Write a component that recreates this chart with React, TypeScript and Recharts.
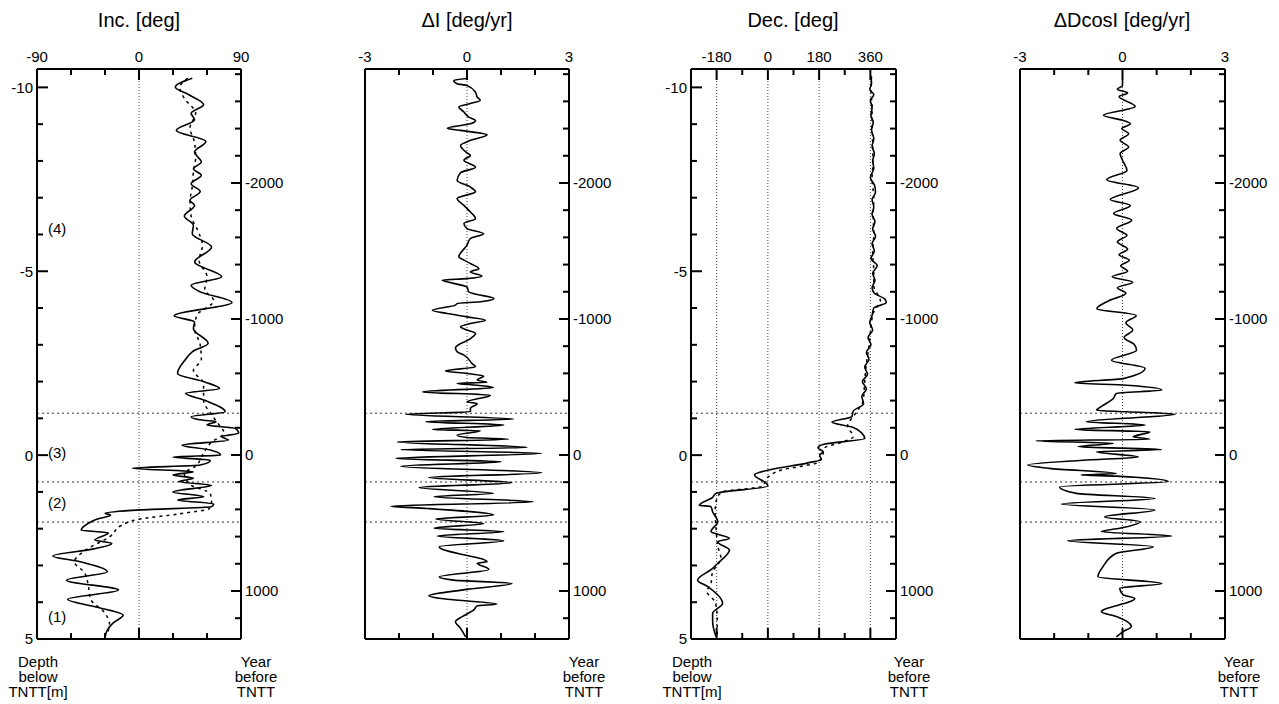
import React from "react";
import { LineChart, Line, XAxis, YAxis, ReferenceLine } from "recharts";

const FONT = '"Liberation Sans", Arial, Helvetica, sans-serif';

type Pair = [number, number]; // [depth below TNTT (m), value]

// shared vertical axes
const depthDomain: [number, number] = [-10.5, 5];
const yearDomain: [number, number] = [-2838, 1353];
const depthTicks = [-10, -9, -8, -7, -6, -5, -4, -3, -2, -1, 0, 1, 2, 3, 4, 5];
const depthLabels = [-10, -5, 0, 5];
const yearTicks = [-2800, -2600, -2400, -2200, -2000, -1800, -1600, -1400, -1200, -1000, -800, -600, -400, -200, 0, 200, 400, 600, 800, 1000, 1200];
const yearLabels = [-2000, -1000, 0, 1000];
const unitBoundaries = [-1.14, 0.73, 1.82];

// inclination
const incTicks = [-90, -60, -30, 0, 30, 60, 90];
const incObserved: Pair[] = [
  [-10.25, 47], [-10.01, 32], [-9.8, 44], [-9.53, 57], [-9.3, 46], [-9.12, 49], [-8.83, 33], [-8.53, 59],
  [-8.24, 49], [-7.97, 55], [-7.79, 48], [-7.61, 55], [-7.38, 46], [-7.17, 54], [-6.93, 45], [-6.79, 49],
  [-6.5, 40], [-6.25, 48], [-6.02, 47], [-5.66, 64], [-5.25, 49], [-4.85, 73], [-4.62, 46], [-4.44, 54],
  [-4.15, 82], [-3.79, 31], [-3.62, 49], [-3.44, 48], [-3.04, 61], [-2.81, 47], [-2.6, 41], [-2.22, 34],
  [-1.99, 58], [-1.81, 71], [-1.68, 41], [-1.49, 58], [-1.18, 76], [-1.04, 46], [-0.95, 57], [-0.91, 68],
  [-0.82, 60], [-0.73, 85], [-0.6, 88], [-0.5, 73], [-0.41, 79], [-0.27, 38], [-0.14, 63], [0, 72],
  [0.05, 30], [0.14, 63], [0.27, 54], [0.36, -6], [0.45, 48], [0.54, 30], [0.63, 48], [0.72, 35],
  [0.82, 64], [1.0, 30], [1.13, 57], [1.22, 34], [1.33, 66], [1.4, 64], [1.49, 1], [1.58, -30],
  [1.63, -25], [1.75, -38], [1.86, -45], [2.04, -51], [2.11, -27], [2.31, -39], [2.4, -24], [2.55, -40],
  [2.74, -76], [2.9, -52], [3.17, -28], [3.4, -64], [3.67, -18], [3.92, -63], [4.15, -35], [4.35, -14],
  [4.57, -23], [4.76, -28], [4.94, -30],
];
const incModel: Pair[] = [
  [-10.25, 43], [-10.0, 36], [-9.7, 40], [-9.3, 50], [-8.9, 45], [-8.5, 49], [-8.1, 50], [-7.7, 48],
  [-7.3, 47], [-6.9, 45], [-6.5, 46], [-6.1, 52], [-5.7, 56], [-5.3, 53], [-4.85, 60], [-4.5, 58],
  [-4.2, 66], [-3.8, 51], [-3.45, 49], [-3.0, 54], [-2.6, 55], [-2.3, 48], [-1.95, 57], [-1.5, 57],
  [-1.1, 64], [-0.85, 70], [-0.6, 75], [-0.35, 64], [0, 56], [0.3, 50], [0.5, 40], [0.8, 45],
  [1.05, 63], [1.3, 64], [1.45, 62], [1.6, 35], [1.75, -1], [1.9, -15], [2.2, -25], [2.6, -48],
  [2.9, -57], [3.2, -48], [3.5, -45], [3.9, -43], [4.3, -30], [4.6, -26], [4.9, -29],
];

// rate of inclination change
const rateTicks = [-3, -2, -1, 0, 1, 2, 3];
const incRate: Pair[] = [
  [-10.24, 0], [-10.19, -0.39], [-10.1, -0.29], [-10.05, 0], [-9.87, 0.25], [-9.74, 0.3], [-9.65, 0.39],
  [-9.56, 0.1], [-9.47, -0.24], [-9.33, -0.09], [-9.19, 0.05], [-9.1, 0.25], [-9.01, 0.1], [-8.89, -0.58],
  [-8.83, -0.19], [-8.71, 0.59], [-8.56, 0.1], [-8.42, -0.19], [-8.22, 0], [-8.15, 0.1], [-8.02, -0.09],
  [-7.83, 0.25], [-7.68, -0.19], [-7.47, -0.29], [-7.29, 0.1], [-7.16, 0.25], [-6.98, -0.29], [-6.79, -0.09],
  [-6.61, 0.1], [-6.43, 0.25], [-6.3, -0.09], [-6.16, 0], [-6.02, 0.49], [-5.89, 0.1], [-5.71, 0],
  [-5.39, -0.24], [-5.33, -0.14], [-5.21, 0.1], [-5.07, 0.35], [-4.98, 0.1], [-4.87, 0.44], [-4.8, 0],
  [-4.76, -0.73], [-4.67, -0.39], [-4.57, 0], [-4.44, 0.05], [-4.39, 0.2], [-4.26, 0.79], [-4.17, 0.39],
  [-4.12, -0.29], [-4.08, -0.34], [-3.94, -1.02], [-3.85, -0.58], [-3.76, 0], [-3.67, 0.54], [-3.58, 0.1],
  [-3.49, -0.19], [-3.4, 0], [-3.31, 0.25], [-3.17, 0.1], [-2.92, -0.34], [-2.81, -0.29], [-2.72, -0.09],
  [-2.49, 0.15], [-2.4, 0.25], [-2.29, -0.63], [-2.22, 0], [-2.15, 0.49], [-2.04, 0.3], [-1.98, 0.59],
  [-1.95, -0.29], [-1.9, 0.3], [-1.84, 0.78], [-1.72, -1.31], [-1.63, 0.69], [-1.45, 0], [-1.4, 0.3],
  [-1.27, 0.1], [-1.18, 0.1], [-1.11, -1.8], [-0.98, 1.37], [-0.91, -1.21], [-0.82, 1.08], [-0.7, -1.02],
  [-0.66, 0.39], [-0.54, -0.29], [-0.48, 0], [-0.43, 1.22], [-0.36, -2.04], [-0.21, 1.76], [-0.15, -1.95],
  [-0.05, 2.2], [0.09, -2.09], [0.18, 1.0], [0.3, -1.95], [0.48, 2.2], [0.61, -1.12], [0.75, 1.32],
  [0.88, -1.41], [1.04, 0.78], [1.13, -0.97], [1.27, 1.95], [1.39, -2.24], [1.45, -1.17], [1.63, 0.78],
  [1.74, -0.92], [1.86, 0.49], [1.99, -0.97], [2.08, 1.08], [2.2, -0.87], [2.33, 1.08], [2.49, -0.82],
  [2.56, -0.73], [2.67, -0.29], [2.81, 0.39], [2.9, 0.59], [2.94, 0.3], [3.11, 0.64], [3.31, -0.82],
  [3.4, -0.39], [3.49, 1.32], [3.65, 0], [3.83, -1.12], [3.92, -0.58], [4.05, 0.88], [4.1, 0.3],
  [4.21, 0.2], [4.39, -0.14], [4.53, -0.34], [4.71, -0.19], [4.94, -0.04],
];

// declination
const decTicks = [-180, -90, 0, 90, 180, 270, 360];
const decMajor = [-180, 0, 180, 360];
const decObserved: Pair[] = [
  [-10.3, 362], [-10.1, 364], [-9.95, 358], [-9.8, 372], [-9.65, 360], [-9.45, 366], [-9.25, 362],
  [-9.05, 370], [-8.85, 364], [-8.6, 372], [-8.4, 366], [-8.2, 374], [-8.0, 368], [-7.8, 372],
  [-7.55, 360], [-7.35, 374], [-7.15, 378], [-6.95, 366], [-6.75, 372], [-6.55, 366], [-6.35, 376],
  [-6.15, 368], [-5.95, 378], [-5.75, 366], [-5.55, 374], [-5.35, 362], [-5.15, 384], [-4.95, 368],
  [-4.75, 376], [-4.55, 366], [-4.4, 374], [-4.25, 410], [-4.15, 416], [-4.0, 372], [-3.8, 366],
  [-3.6, 358], [-3.4, 368], [-3.2, 352], [-3.0, 362], [-2.8, 346], [-2.6, 355], [-2.4, 340],
  [-2.2, 350], [-2.0, 332], [-1.8, 346], [-1.6, 330], [-1.4, 336], [-1.2, 300], [-1.05, 295],
  [-0.9, 225], [-0.75, 300], [-0.6, 330], [-0.45, 340], [-0.3, 200], [-0.2, 176], [-0.09, 194],
  [0, 182], [0.12, 188], [0.21, 141], [0.41, 0], [0.54, -47], [0.77, -5], [0.84, 0], [1.04, -182],
  [1.15, -194], [1.36, -241], [1.4, -200], [1.54, -194], [1.81, -176], [2.08, -200], [2.26, -135],
  [2.36, -176], [2.58, -135], [2.94, -176], [3.08, -194], [3.4, -247], [3.58, -210], [4.03, -159],
  [4.3, -194], [4.53, -194], [4.94, -182],
];
const decModel: Pair[] = [
  [-10.3, 364], [-9.9, 362], [-9.5, 366], [-9.0, 366], [-8.5, 368], [-8.0, 369], [-7.5, 366],
  [-7.0, 372], [-6.5, 370], [-6.0, 372], [-5.5, 368], [-5.0, 372], [-4.6, 372], [-4.2, 395],
  [-3.9, 372], [-3.5, 362], [-3.0, 356], [-2.5, 346], [-2.0, 340], [-1.5, 335], [-1.1, 305],
  [-0.8, 280], [-0.5, 300], [-0.35, 260], [-0.2, 200], [0.05, 190], [0.2, 175], [0.41, 45],
  [0.6, 0], [0.85, -20], [1.0, -160], [1.2, -180], [1.5, -185], [2.0, -182], [2.5, -175],
  [2.8, -165], [3.2, -195], [3.5, -200], [3.7, -215], [4.0, -185], [4.4, -178], [4.94, -178],
];

// rate of declination change, scaled by cos I
const decRate: Pair[] = [
  [-10.2, 0], [-10.05, 0], [-9.95, -0.15], [-9.85, 0.15], [-9.75, -0.1], [-9.48, 0.37], [-9.24, -0.56],
  [-9.1, 0.03], [-9.01, 0.23], [-8.88, -0.02], [-8.74, 0.18], [-8.56, -0.07], [-8.38, 0.18], [-8.2, -0.07],
  [-8.02, 0], [-7.74, 0.13], [-7.49, -0.46], [-7.27, 0.47], [-6.95, -0.36], [-6.79, 0.23], [-6.57, -0.26],
  [-6.39, 0.27], [-6.16, -0.17], [-5.98, 0.13], [-5.8, -0.15], [-5.6, 0.15], [-5.45, -0.1], [-5.3, 0.2],
  [-5.15, -0.05], [-5.0, 0.15], [-4.85, -0.3], [-4.7, 0.3], [-4.55, -0.15], [-4.4, 0.1], [-4.2, -0.4],
  [-3.98, -0.75], [-3.8, 0.4], [-3.6, 0.1], [-3.4, 0.3], [-3.2, 0.05], [-3.0, 0.35], [-2.85, 0.41],
  [-2.58, -0.32], [-2.36, 0.66], [-2.08, 0.02], [-1.97, -1.4], [-1.9, 0.12], [-1.77, 1.15], [-1.68, -0.18],
  [-1.54, -0.27], [-1.29, -0.67], [-1.22, -0.76], [-1.18, 0.12], [-1.11, 1.54], [-0.91, -1.06],
  [-0.82, 0.66], [-0.7, -1.4], [-0.63, 0.8], [-0.5, 0.31], [-0.43, 0.8], [-0.39, -2.53], [-0.32, -0.27],
  [-0.23, -1.3], [-0.15, 1.15], [-0.09, -0.76], [0.05, 0.46], [0.14, -1.16], [0.27, -2.77], [0.36, -2.14],
  [0.5, -0.18], [0.54, -1.21], [0.57, -0.18], [0.72, 1.34], [0.86, -1.84], [1.04, -1.35], [1.18, 0.95],
  [1.33, -1.79], [1.49, 0.95], [1.68, -0.52], [1.81, 0.51], [1.99, -0.08], [2.08, -0.62], [2.2, 1.44],
  [2.33, -1.6], [2.49, 0.9], [2.67, -0.18], [3.03, -0.57], [3.31, -0.72], [3.49, 1.15], [3.62, -0.08],
  [3.8, 0.02], [3.9, 0.36], [4.26, -0.62], [4.39, -0.18], [4.66, 0.26], [4.8, 0.02], [4.94, -0.18],
];

const toRows = (pairs: Pair[]) => pairs.map(([depth, value]) => ({ depth, value }));
// rows that span the age axis so it gets a domain of its own
const yearRows = yearDomain.map((year) => ({ year }));

const txt = { fontFamily: FONT, fontSize: 15, fill: "#000" };

function topTick(majors: number[], labels: number[]) {
  return (p: any) => {
    const v = p.payload.value;
    const len = majors.includes(v) ? 11 : 6;
    return (
      <g>
        <line x1={p.x} y1={p.y} x2={p.x} y2={p.y + len} stroke="#000" strokeWidth={2} />
        {labels.includes(v) && (
          <text x={p.x} y={p.y - 7} textAnchor="middle" {...txt}>{v}</text>
        )}
      </g>
    );
  };
}

function bottomTick(majors: number[]) {
  return (p: any) => {
    const len = majors.includes(p.payload.value) ? 11 : 6;
    return <line x1={p.x} y1={p.y} x2={p.x} y2={p.y - len} stroke="#000" strokeWidth={2} />;
  };
}

const depthTick = (p: any) => {
  const v = p.payload.value;
  const major = depthLabels.includes(v);
  return (
    <g>
      <line x1={p.x} y1={p.y} x2={p.x + (major ? 11 : 6)} y2={p.y} stroke="#000" strokeWidth={2} />
      {major && (
        <text x={p.x - 4} y={p.y} dy="0.36em" textAnchor="end" {...txt}>{v}</text>
      )}
    </g>
  );
};

const yearTick = (p: any) => {
  const v = p.payload.value;
  const major = yearLabels.includes(v);
  return (
    <g>
      <line x1={p.x} y1={p.y} x2={p.x - (major ? 10 : 6)} y2={p.y} stroke="#000" strokeWidth={2} />
      {major && (
        <text x={p.x + 4} y={p.y} dy="0.36em" textAnchor="start" {...txt}>{v}</text>
      )}
    </g>
  );
};

interface PanelProps {
  left: number;
  width: number;
  marginLeft: number;
  marginRight: number;
  domain: [number, number];
  ticks: number[];
  majors: number[];
  labels: number[];
  guides: number[];
  depthAxis: boolean;
  solid: Pair[];
  dashed?: Pair[];
}

function Panel(props: PanelProps) {
  const { left, width, marginLeft, marginRight, domain, ticks, majors, labels, guides, depthAxis, solid, dashed } = props;
  const axisLine = { stroke: "#000", strokeWidth: 2 };
  return (
    <div style={{ position: "absolute", left, top: 0 }}>
      <LineChart
        layout="vertical"
        width={width}
        height={704}
        data={yearRows}
        margin={{ top: 39, bottom: 45, left: marginLeft, right: marginRight }}
      >
        <XAxis
          xAxisId="top"
          orientation="top"
          type="number"
          domain={domain}
          allowDataOverflow
          ticks={ticks}
          interval={0}
          height={30}
          tickSize={0}
          tickMargin={0}
          axisLine={axisLine}
          tickLine={false}
          tick={topTick(majors, labels)}
        />
        <XAxis
          xAxisId="bottom"
          orientation="bottom"
          type="number"
          domain={domain}
          allowDataOverflow
          ticks={ticks}
          interval={0}
          height={20}
          tickSize={0}
          tickMargin={0}
          axisLine={axisLine}
          tickLine={false}
          tick={bottomTick(majors)}
        />
        <YAxis
          yAxisId="depth"
          orientation="left"
          type="number"
          dataKey="depth"
          domain={depthDomain}
          allowDataOverflow
          ticks={depthTicks}
          interval={0}
          width={30}
          tickSize={0}
          tickMargin={0}
          axisLine={axisLine}
          tickLine={false}
          tick={depthAxis ? depthTick : false}
        />
        <YAxis
          yAxisId="year"
          orientation="right"
          type="number"
          dataKey="year"
          domain={yearDomain}
          allowDataOverflow
          ticks={yearTicks}
          interval={0}
          width={40}
          tickSize={0}
          tickMargin={0}
          axisLine={axisLine}
          tickLine={false}
          tick={yearTick}
        />
        {guides.map((g) => (
          <ReferenceLine key={`g${g}`} x={g} xAxisId="top" yAxisId="depth" stroke="#444" strokeWidth={1} strokeDasharray="1 2" />
        ))}
        {unitBoundaries.map((d) => (
          <ReferenceLine key={`b${d}`} y={d} xAxisId="top" yAxisId="depth" stroke="#333" strokeWidth={1} strokeDasharray="2 3" />
        ))}
        {dashed && (
          <Line
            data={toRows(dashed)}
            dataKey="value"
            xAxisId="top"
            yAxisId="depth"
            type="monotone"
            stroke="#000"
            strokeWidth={1.5}
            strokeDasharray="3 4"
            dot={false}
            isAnimationActive={false}
          />
        )}
        <Line
          data={toRows(solid)}
          dataKey="value"
          xAxisId="top"
          yAxisId="depth"
          type="monotone"
          stroke="#000"
          strokeWidth={1.6}
          dot={false}
          isAnimationActive={false}
        />
      </LineChart>
    </div>
  );
}

function Caption({ x, lines }: { x: number; lines: string[] }) {
  return (
    <>
      {lines.map((s, i) => (
        <text key={s} x={x} y={667 + i * 15} textAnchor="middle" {...txt}>{s}</text>
      ))}
    </>
  );
}

export default function App() {
  const depthCaption = ["Depth", "below", "TNTT[m]"];
  const yearCaption = ["Year", "before", "TNTT"];
  return (
    <div
      style={{
        position: "absolute",
        left: 0,
        top: 0,
        width: 1279,
        height: 704,
        overflow: "hidden",
        background: "#fff",
        fontFamily: FONT,
      }}
    >
      <Panel left={0} width={320} marginLeft={7} marginRight={39} domain={[-90, 90]} ticks={incTicks}
        majors={[0]} labels={[-90, 0, 90]} guides={[0]} depthAxis solid={incObserved} dashed={incModel} />
      <Panel left={320} width={320} marginLeft={15} marginRight={31} domain={[-3, 3]} ticks={rateTicks}
        majors={[0]} labels={[-3, 0, 3]} guides={[0]} depthAxis={false} solid={incRate} />
      <Panel left={640} width={320} marginLeft={21} marginRight={24} domain={[-270, 450]} ticks={decTicks}
        majors={decMajor} labels={decMajor} guides={decMajor} depthAxis solid={decObserved} dashed={decModel} />
      <Panel left={960} width={319} marginLeft={30} marginRight={14} domain={[-3, 3]} ticks={rateTicks}
        majors={[0]} labels={[-3, 0, 3]} guides={[0]} depthAxis={false} solid={decRate} />

      <svg width={1279} height={704} style={{ position: "absolute", left: 0, top: 0, pointerEvents: "none" }}>
        <g fontFamily={FONT} fontSize={20} fill="#000" textAnchor="middle">
          <text x={139} y={27}>Inc. [deg]</text>
          <text x={467} y={27}>ΔI [deg/yr]</text>
          <text x={793} y={27}>Dec. [deg]</text>
          <text x={1122} y={27}>ΔDcosI [deg/yr]</text>
        </g>
        <text x={48} y={234} {...txt}>(4)</text>
        <text x={48} y={458} {...txt}>(3)</text>
        <text x={48} y={508} {...txt}>(2)</text>
        <text x={48} y={622} {...txt}>(1)</text>
        <Caption x={38} lines={depthCaption} />
        <Caption x={256} lines={yearCaption} />
        <Caption x={584} lines={yearCaption} />
        <Caption x={692} lines={depthCaption} />
        <Caption x={909} lines={yearCaption} />
        <Caption x={1239} lines={yearCaption} />
      </svg>
    </div>
  );
}
